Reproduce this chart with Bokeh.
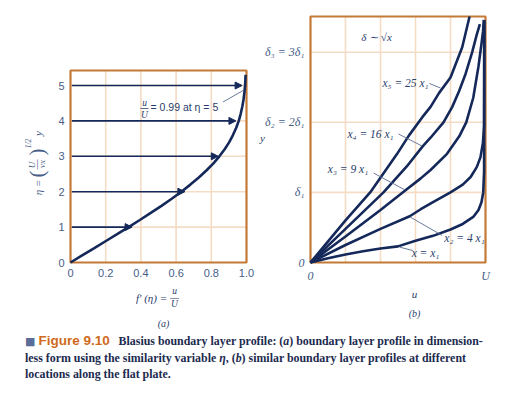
import math
from bokeh.plotting import figure
from bokeh.models import Range1d, FixedTicker, Label, Arrow, NormalHead, ColumnDataSource, Div, LinearAxis
from bokeh.layouts import row, column
from bokeh.embed import file_html
from bokeh.resources import INLINE

# ---------------- data ----------------
# (a) Blasius profile f'(eta)
eta = [0.0, 0.2, 0.4, 0.6, 0.8, 1.0, 1.2, 1.4, 1.6, 1.8, 2.0, 2.2, 2.4, 2.6, 2.8,
       3.0, 3.2, 3.4, 3.6, 3.8, 4.0, 4.2, 4.4, 4.6, 4.8, 5.0, 5.2, 5.3]
fprime = [0.0, 0.066, 0.133, 0.199, 0.265, 0.330, 0.394, 0.456, 0.517, 0.575, 0.630,
          0.681, 0.729, 0.772, 0.812, 0.846, 0.876, 0.902, 0.923, 0.941, 0.956,
          0.967, 0.976, 0.983, 0.988, 0.992, 0.994, 0.995]
arrow_eta = [1, 2, 3, 4, 5]
arrow_u = [0.35, 0.65, 0.84, 0.94, 0.975]
left_xticks = [0, 0.2, 0.4, 0.6, 0.8, 1.0]
left_xlabels = ["0", "0.2", "0.4", "0.6", "0.8", "1.0"]
left_yticks = [0, 1, 2, 3, 4, 5]
left_ylabels = ["0", "1", "2", "3", "4", "5"]
left_eta_max = 5.424

# (b) profiles at x1, 4x1, 9x1, 16x1, 25x1  (u/U, y/delta1)
x1_u = [0, 0.1, 0.2, 0.3, 0.4, 0.5, 0.6, 0.7, 0.8, 0.87, 0.93, 0.96, 0.977, 0.987, 0.992, 0.993]
x1_y = [0, 0.06, 0.115, 0.16, 0.2, 0.23, 0.31, 0.38, 0.47, 0.55, 0.65, 0.75, 0.86, 1.0, 1.3, 3.46]
x2_u = [0, 0.2, 0.4, 0.567, 0.63, 0.7, 0.8, 0.87, 0.915, 0.95, 0.971, 0.985, 0.992, 0.993]
x2_y = [0, 0.25, 0.48, 0.66, 0.76, 0.86, 1.0, 1.11, 1.22, 1.36, 1.5, 1.7, 1.95, 3.46]
x3_u = [0, 0.2, 0.4, 0.543, 0.63, 0.686, 0.78, 0.85, 0.89, 0.93, 0.96, 0.976, 0.986, 0.99]
x3_y = [0, 0.37, 0.75, 1.03, 1.2, 1.32, 1.55, 1.8, 2.0, 2.35, 2.8, 3.1, 3.3, 3.46]
x4_u = [0, 0.2, 0.417, 0.55, 0.642, 0.686, 0.76, 0.81, 0.85, 0.886, 0.924, 0.95, 0.968]
x4_y = [0, 0.48, 1.0, 1.37, 1.66, 1.78, 2.0, 2.22, 2.45, 2.69, 3.0, 3.25, 3.40]
x5_u = [0, 0.2, 0.341, 0.495, 0.562, 0.638, 0.686, 0.735, 0.80, 0.867, 0.909]
x5_y = [0, 0.6, 1.0, 1.55, 1.81, 2.07, 2.22, 2.42, 2.64, 3.07, 3.51]
profile_labels = ["x = x\u2081", "x\u2082 = 4 x\u2081", "x\u2083 = 9 x\u2081",
                  "x\u2084 = 16 x\u2081", "x\u2085 = 25 x\u2081"]
right_xticks = [0, 1]
right_xlabels = ["0", "U"]
right_yticks = [0, 1, 2, 3]
right_ylabels = ["0", "\u03b4\u2081", "\u03b4\u2082 = 2\u03b4\u2081", "\u03b4\u2083 = 3\u03b4\u2081"]
right_xgrid = [0.2, 0.4, 0.6, 0.8]
right_ygrid = [1, 2, 3]
right_y_max = 3.509

# ---------------- styles ----------------
NAVY = "#14285a"
FRAME = "#c47a36"
GRID = "#f5dcc4"
TICK = "#475d88"
TEXT = "#2a406c"
LEAD = "#5a6c90"
SERIF = "Liberation Serif"
SANS = "Liberation Sans"


def make_fig(w, h, xr, yr):
    p = figure(width=w, height=h, output_backend="svg", toolbar_location=None, title=None,
               x_range=Range1d(*xr), y_range=Range1d(*yr), x_axis_location=None,
               y_axis_location=None, min_border=0, min_border_left=0, min_border_right=0,
               min_border_top=0, min_border_bottom=0)
    p.grid.grid_line_color = None
    p.outline_line_color = None
    p.background_fill_color = "white"
    p.border_fill_color = "white"
    return p


def add_axes(p, xt, xl, yt, yl, font, fstyle, size):
    for side, t, l in (("below", xt, xl), ("left", yt, yl)):
        ax = LinearAxis(fixed_location=0, ticker=FixedTicker(ticks=t),
                        major_label_overrides={float(a): b for a, b in zip(t, l)})
        ax.axis_line_color = None
        ax.major_tick_line_color = None
        ax.minor_tick_line_color = None
        ax.major_tick_out = 0
        ax.major_tick_in = 0
        ax.minor_tick_out = 0
        ax.minor_tick_in = 0
        ax.major_label_text_color = TICK
        ax.major_label_text_font = font
        ax.major_label_text_font_style = fstyle
        ax.major_label_text_font_size = size
        ax.major_label_standoff = 6
        p.add_layout(ax, side)


def draw_panel(p, xg, yg, ytop):
    # grid lines at the tick positions, then the panel frame
    p.segment(x0=xg, y0=[0] * len(xg), x1=xg, y1=[ytop] * len(xg), line_color=GRID, line_width=1.6)
    p.segment(x0=[0] * len(yg), y0=yg, x1=[1] * len(yg), y1=yg, line_color=GRID, line_width=1.6)
    p.quad(left=[0], right=[1], bottom=[0], top=[ytop], fill_color=None,
           line_color=FRAME, line_width=2.2)


def add_label(p, conv, px, py, text, size, font=SERIF, fstyle="italic", color=TEXT,
              align="center", angle=0.0):
    x, y = conv(px, py)
    p.add_layout(Label(x=x, y=y, text=text, text_font=font, text_font_style=fstyle,
                       text_font_size=f"{size}px", text_color=color, text_align=align,
                       text_baseline="middle", angle=angle))


# ---------------- panel (a) ----------------
# figure covers page x 0..258, y 0..330 ; panel frame at x 70..246, y 70..262
p1 = make_fig(258, 330, (-70 / 176.0, 188 / 176.0), (-68 / 35.4, 262 / 35.4))


def c1(px, py):
    return ((px - 70) / 176.0, (262 - py) / 35.4)


draw_panel(p1, left_xticks[1:-1], left_yticks[1:], left_eta_max)
add_axes(p1, left_xticks, left_xlabels, left_yticks, left_ylabels, SANS, "normal", "11px")

src_a = ColumnDataSource(dict(x0=[0.008] * len(arrow_eta), x1=arrow_u, y=arrow_eta))
p1.add_layout(Arrow(end=NormalHead(size=7, fill_color=NAVY, line_color=NAVY, line_width=1),
                    x_start="x0", y_start="y", x_end="x1", y_end="y", source=src_a,
                    line_color=NAVY, line_width=1.6))
p1.line(fprime, eta, line_color=NAVY, line_width=2.6)

# annotation u/U = 0.99 at eta = 5
add_label(p1, c1, 144, 102.5, "u", 9.5)
add_label(p1, c1, 144, 114, "U", 9.5)
bx0, by0 = c1(140, 108)
bx1, by1 = c1(148, 108)
p1.segment(x0=[bx0], y0=[by0], x1=[bx1], y1=[by1], line_color=TEXT, line_width=0.8)
add_label(p1, c1, 150, 106, "= 0.99 at \u03b7 = 5", 10.5, font=SANS, fstyle="normal", align="left")
lx0, ly0 = c1(222.5, 101.5)
lx1, ly1 = c1(243.5, 89.5)
p1.segment(x0=[lx0], y0=[ly0], x1=[lx1], y1=[ly1], line_color=LEAD, line_width=0.9)

# y-axis label  eta = (U / nu x)^(1/2) y   (rotated)
R = math.pi / 2
add_label(p1, c1, 37, 187, "\u03b7 =", 11, color=TICK, angle=R)
add_label(p1, c1, 36, 173.5, "(", 21, fstyle="normal", color=TICK, angle=R)
add_label(p1, c1, 31, 164.5, "U", 9, color=TICK, angle=R)
add_label(p1, c1, 35.5, 164, "\u2014", 10, fstyle="normal", color=TICK, angle=R)
add_label(p1, c1, 41, 163.5, "\u03bdx", 9, color=TICK, angle=R)
add_label(p1, c1, 36, 151.5, ")", 21, fstyle="normal", color=TICK, angle=R)
add_label(p1, c1, 28, 143, "1/2", 7.5, color=TICK, angle=R)
add_label(p1, c1, 37, 133, "y", 11, color=TICK, angle=R)

# x-axis label f'(eta) = u/U
add_label(p1, c1, 151, 297, "f\u2032 (\u03b7) =", 11)
add_label(p1, c1, 174, 290.5, "u", 9.5)
add_label(p1, c1, 174, 296, "\u2014", 9, fstyle="normal")
add_label(p1, c1, 174, 303, "U", 9.5)
add_label(p1, c1, 163, 323, "(a)", 10)

# ---------------- panel (b) ----------------
# figure covers page x 258..508 ; panel frame at x 310..485, y 16..262
p2 = make_fig(250, 330, (-52 / 175.0, 198 / 175.0), (-68 / 70.1, 262 / 70.1))


def c2(px, py):
    return ((px - 310) / 175.0, (262 - py) / 70.1)


draw_panel(p2, right_xgrid, right_ygrid, right_y_max)
add_axes(p2, right_xticks, right_xlabels, right_yticks, right_ylabels, SERIF, "italic", "12px")

for u, y in ((x1_u, x1_y), (x2_u, x2_y), (x3_u, x3_y), (x4_u, x4_y), (x5_u, x5_y)):
    p2.line(u, y, line_color=NAVY, line_width=2.6)

# curve labels and leader lines
label_pos = [(425, 252), (464, 237), (347.5, 168), (370, 133), (405, 82)]
leaders = [((412.3, 250), (399.3, 246.7)), ((441.7, 235), (410, 216.7)),
           ((373.3, 172.7), (404.3, 189.3)), ((398, 133.5), (421.5, 145.5)),
           ((429, 83), (440, 87.5))]
for txt, (px, py), (a, b) in zip(profile_labels, label_pos, leaders):
    add_label(p2, c2, px, py, txt, 11.5, color=TEXT)
    xa, ya = c2(*a)
    xb, yb = c2(*b)
    p2.segment(x0=[xa], y0=[ya], x1=[xb], y1=[yb], line_color=LEAD, line_width=0.9)

add_label(p2, c2, 376, 36, "\u03b4 \u223c \u221ax", 11)
add_label(p2, c2, 262, 137, "y", 11)
add_label(p2, c2, 414, 293, "u", 11)
add_label(p2, c2, 414, 313, "(b)", 10)

# ---------------- caption ----------------
caption = Div(
    text=('<div style="font-family:\'Liberation Serif\',serif;font-weight:bold;font-size:11.9px;'
          'line-height:16px;color:#1c2b4f;padding-left:25px;padding-top:3px;white-space:nowrap;">'
          '<span style="color:#5a6e99;font-family:\'DejaVu Sans\';font-size:11px;">\u25a0</span>&nbsp;'
          '<span style="color:#cf6a1d;font-family:\'Liberation Sans\',sans-serif;font-size:13.5px;">Figure 9.10</span>'
          '&nbsp;&nbsp;&nbsp;Blasius boundary layer profile: (<i>a</i>) boundary layer profile in dimension-<br>'
          'less form using the similarity variable <i>\u03b7</i>, (<i>b</i>) similar boundary layer profiles at different<br>'
          'locations along the flat plate.</div>'),
    width=508, height=60, margin=(0, 0, 0, 0))

layout = column(row(p1, p2, spacing=0), caption, spacing=0)
open("out.html", "w").write(file_html(layout, INLINE))
